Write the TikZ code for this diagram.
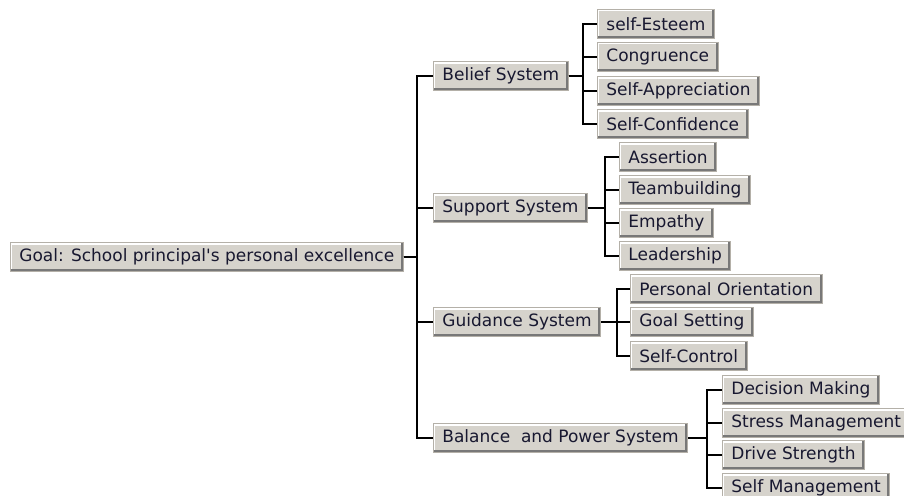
\documentclass[tikz,border=0pt]{standalone}
\usepackage{fontspec}
\setmainfont{DejaVu Sans}
\usepackage{tikz}
\definecolor{btnface}{HTML}{D6D3CC}
\definecolor{btnedge}{HTML}{B4B0A8}
\definecolor{btnshade}{HTML}{787878}
\definecolor{btntext}{HTML}{181830}
\tikzstyle{btn}=[anchor=west, fill=btnface, draw=btnedge, line width=0.8pt, text=btntext,
  inner xsep=9pt, inner ysep=0pt, minimum height=29pt, font=\fontsize{17}{20}\selectfont,
  path picture={
    \draw[white, line width=4pt] (path picture bounding box.south west) |- (path picture bounding box.north east);
    \draw[btnshade, line width=5pt] (path picture bounding box.south west) -| (path picture bounding box.north east);
  }]
\tikzstyle{link}=[draw=black, line width=1.3pt]

\begin{document}
\begin{tikzpicture}[x=1pt, y=-1pt]
\useasboundingbox (0,0) rectangle (904,495);

\node[btn] (goal) at (10,257) {Goal: School principal\textquotesingle s personal excellence};

\node[btn] (belief) at (433,76) {Belief System};
\node[btn] (support) at (433,208) {Support System};
\node[btn] (guidance) at (433,322) {Guidance System};
\node[btn] (balance) at (433,438) {Balance\ \ and Power System};

\node[btn] (esteem) at (597,24) {self-Esteem};
\node[btn] (congruence) at (597,57) {Congruence};
\node[btn] (appreciation) at (597,91) {Self-Appreciation};
\node[btn] (confidence) at (597,124) {Self-Confidence};

\node[btn] (assertion) at (619,157) {Assertion};
\node[btn] (teambuilding) at (619,190) {Teambuilding};
\node[btn] (empathy) at (619,223) {Empathy};
\node[btn] (leadership) at (619,256) {Leadership};

\node[btn] (orientation) at (630,289) {Personal Orientation};
\node[btn] (goalsetting) at (630,322) {Goal Setting};
\node[btn] (selfcontrol) at (630,356) {Self-Control};

\node[btn] (decision) at (722,390) {Decision Making};
\node[btn] (stress) at (722,423) {Stress Management};
\node[btn] (drive) at (722,455) {Drive Strength};
\node[btn] (selfmgmt) at (722,488) {Self Management};

\foreach \sys in {belief, support, guidance, balance}
  \draw[link] (goal.east) -| ([xshift=-16pt]\sys.west) -- (\sys.west);

\foreach \leaf in {esteem, congruence, appreciation, confidence}
  \draw[link] (belief.east) -| ([xshift=-14pt]\leaf.west) -- (\leaf.west);
\foreach \leaf in {assertion, teambuilding, empathy, leadership}
  \draw[link] (support.east) -| ([xshift=-14pt]\leaf.west) -- (\leaf.west);
\foreach \leaf in {orientation, goalsetting, selfcontrol}
  \draw[link] (guidance.east) -| ([xshift=-13pt]\leaf.west) -- (\leaf.west);
\foreach \leaf in {decision, stress, drive, selfmgmt}
  \draw[link] (balance.east) -| ([xshift=-15pt]\leaf.west) -- (\leaf.west);

\end{tikzpicture}
\end{document}
